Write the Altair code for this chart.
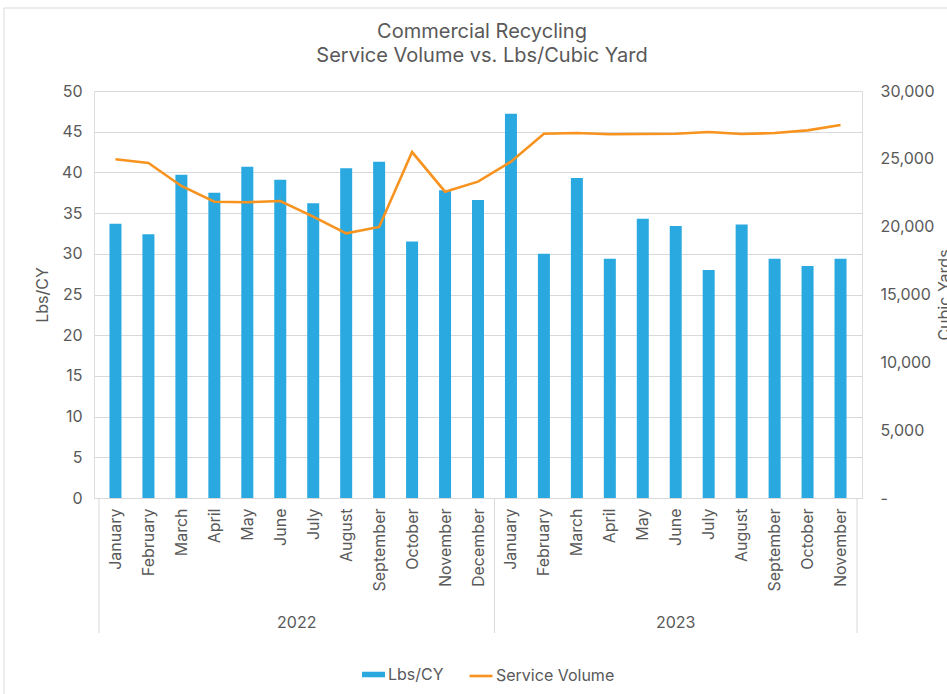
import altair as alt
import pandas as pd

months = ["January", "February", "March", "April", "May", "June", "July", "August",
          "September", "October", "November", "December",
          "January", "February", "March", "April", "May", "June", "July", "August",
          "September", "October", "November"]
years = ["2022"] * 12 + ["2023"] * 11
lbs_cy = [33.7, 32.4, 39.7, 37.5, 40.7, 39.1, 36.2, 40.5, 41.3, 31.5, 37.8, 36.6,
          47.2, 30.0, 39.3, 29.4, 34.3, 33.4, 28.0, 33.6, 29.4, 28.5, 29.4]
service_volume = [24970, 24690, 23000, 21840, 21800, 21890, 20740, 19510, 19980, 25500, 22580, 23320,
                  24790, 26850, 26900, 26810, 26830, 26850, 26980, 26830, 26900, 27100, 27490]
year_labels = ["2022", "2023"]
year_centers = [5.5, 17.0]
separators = [-0.5, 11.5, 22.5]
title_lines = "Commercial Recycling\nService Volume vs. Lbs/Cubic Yard"

df = pd.DataFrame({
    "idx": list(range(len(months))),
    "month": months,
    "year": years,
    "Lbs/CY": lbs_cy,
    "Service Volume": service_volume,
    "bar_series": ["Lbs/CY"] * len(months),
    "line_series": ["Service Volume"] * len(months),
})
yr_df = pd.DataFrame({"x": year_centers, "label": year_labels})
sep_df = pd.DataFrame({"x": separators})

FONT = "Inter"
TXT = "#595959"
BLUE = "#29A9E0"
ORANGE = "#F7931E"
GRID = "#D9D9D9"
W, H = 768, 407

month_expr = "[" + ",".join(f"'{m}'" for m in months) + "][datum.value]"

xscale = alt.Scale(domain=[-0.5, 22.5], nice=False, zero=False)
xaxis = alt.Axis(values=list(range(23)), labelExpr=month_expr, labelAngle=270,
                 labelFontSize=16, labelColor=TXT, labelFont=FONT, ticks=False,
                 grid=False, domainColor=GRID, labelPadding=10, title=None,
                 labelOverlap=False, labelBound=False, labelFlush=False)


def xenc(field):
    return alt.X(field, scale=xscale, axis=xaxis)


bars = alt.Chart(df).mark_bar(size=12).encode(
    x=xenc("idx:Q"),
    y=alt.Y("Lbs/CY:Q", scale=alt.Scale(domain=[0, 50], nice=False),
            axis=alt.Axis(values=list(range(0, 51, 5)), title="Lbs/CY", titleFont=FONT,
                          titleFontSize=16, titleFontWeight="normal", titleColor=TXT,
                          labelFont=FONT, labelFontSize=16, labelColor=TXT, ticks=False,
                          domain=False, gridColor=GRID, labelPadding=12, titlePadding=11)),
    color=alt.Color("bar_series:N", scale=alt.Scale(domain=["Lbs/CY"], range=[BLUE]),
                    legend=alt.Legend(title=None, orient="none", legendX=268, legendY=572,
                                      symbolType="M-1,-0.24H1V0.24H-1Z", symbolSize=529,
                                      symbolStrokeWidth=0, labelFont=FONT, labelFontSize=16,
                                      labelColor=TXT, labelOffset=3, padding=0)),
)

line = alt.Chart(df).mark_line(strokeWidth=2.6).encode(
    x=xenc("idx:Q"),
    y=alt.Y("Service Volume:Q", scale=alt.Scale(domain=[0, 30000], nice=False),
            axis=alt.Axis(orient="right", values=list(range(0, 30001, 5000)),
                          labelExpr="datum.value == 0 ? '-' : format(datum.value, ',')",
                          title="Cubic Yards", titleFont=FONT, titleFontSize=16,
                          titleFontWeight="normal", titleColor=TXT, titleAngle=270,
                          labelFont=FONT, labelFontSize=16, labelColor=TXT, ticks=False,
                          domain=False, grid=False, labelPadding=18, titlePadding=18)),
    stroke=alt.Stroke("line_series:N", scale=alt.Scale(domain=["Service Volume"], range=[ORANGE]),
                      legend=alt.Legend(title=None, orient="none", legendX=374, legendY=572,
                                        symbolType="stroke", symbolSize=529,
                                        symbolStrokeWidth=2.6, labelFont=FONT, labelFontSize=16,
                                        labelColor=TXT, labelOffset=2, padding=0)),
)

seps = alt.Chart(sep_df).mark_rule(color=GRID, strokeWidth=1).encode(
    x=xenc("x:Q"),
    y=alt.value(H),
    y2=alt.value(H + 135),
)

yr_text = alt.Chart(yr_df).mark_text(font=FONT, fontSize=16, color=TXT).encode(
    x=xenc("x:Q"),
    y=alt.value(H + 125),
    text="label:N",
)

title_mark = alt.Chart(pd.DataFrame({"t": [title_lines]})).mark_text(
    font=FONT, fontSize=20, color=TXT, baseline="top", align="center",
    lineBreak="\n", lineHeight=24
).encode(x=alt.value(W / 2 + 4), y=alt.value(-69), text="t:N")

border = alt.Chart(pd.DataFrame({"k": [0]})).mark_rule(color=GRID, strokeWidth=1).encode(
    x=alt.value(-90), x2=alt.value(W + 90), y=alt.value(-83)
)
border2 = alt.Chart(pd.DataFrame({"k": [0]})).mark_rule(color=GRID, strokeWidth=1).encode(
    x=alt.value(-90), y=alt.value(-83), y2=alt.value(H + 200)
)

chart = alt.layer(bars, line, seps, yr_text, title_mark, border, border2).resolve_scale(
    y="independent", color="independent", stroke="independent"
).properties(
    width=W, height=H,
    autosize=alt.AutoSizeParams(type="none"),
    padding={"left": 94, "top": 91, "right": 85, "bottom": 196},
).configure_view(stroke=None).configure(background="white")

chart.save("out.html", embed_options={"renderer": "svg", "actions": False})
